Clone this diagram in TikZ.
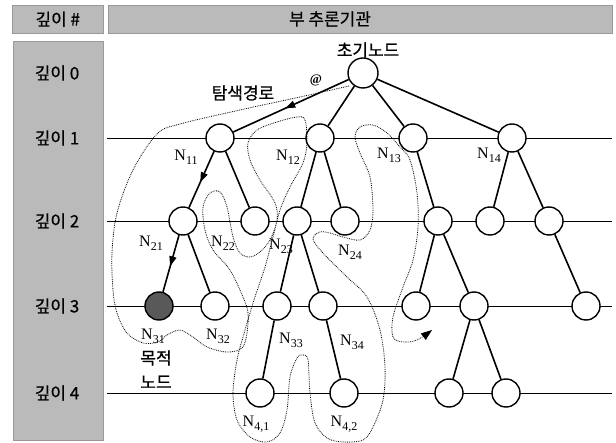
\documentclass[tikz,border=0pt]{standalone}
\usepackage{fontspec}
\setmainfont{Noto Sans CJK KR}[FakeBold=0.6]
\newfontfamily\tms{Liberation Serif}
\usetikzlibrary{arrows.meta,decorations.markings}
\newcommand{\Nl}[1]{{\tms\fontsize{16}{16}\selectfont N\raisebox{-0.5ex}{\fontsize{12}{12}\selectfont #1}}}
\begin{document}
\begin{tikzpicture}[x=1pt,y=-1pt,
  tnode/.style={circle,draw,line width=1.4pt,fill=white,minimum size=28pt,inner sep=0pt},
  goal/.style={tnode,fill=black!65},
  edge/.style={line width=1.6pt},
  midarrow/.style={edge,postaction={decorate},decoration={markings,mark=at position 0.55 with {\arrow{Triangle[length=10pt,width=7pt]}}}},
  level/.style={line width=0.7pt},
  greybox/.style={fill=black!27,draw=black!40,line width=0.5pt},
  kor/.style={font=\fontsize{17}{17}\selectfont},
  lbl/.style={inner sep=0pt},
  searchpath/.style={densely dotted,line width=0.8pt}]
\useasboundingbox (0,0) rectangle (616,443);
% header and depth column
\node[greybox,minimum width=91pt,minimum height=28pt,anchor=north west] (hdl) at (12,5) {};
\node[greybox,minimum width=504pt,minimum height=28pt,anchor=north west] (hdr) at (108,5) {};
\node[kor] (hdltxt) at (hdl.center) {깊이 \#};
\node[kor] (hdrtxt) at (330,19) {부 추론기관};
\node[greybox,minimum width=90pt,minimum height=399pt,anchor=north west] (col) at (13,41) {};
\node[kor] (d0) at (57,73) {깊이 0};
\node[kor] (d1) at (57,138) {깊이 1};
\node[kor] (d2) at (57,221) {깊이 2};
\node[kor] (d3) at (57,306) {깊이 3};
\node[kor] (d4) at (57,393) {깊이 4};
% level lines
\coordinate (l1a) at (107,138); \coordinate (l1b) at (612,138);
\coordinate (l2a) at (107,221); \coordinate (l2b) at (612,221);
\coordinate (l3a) at (107,306); \coordinate (l3b) at (612,306);
\coordinate (l4a) at (107,393); \coordinate (l4b) at (612,393);
\draw[level] (l1a) -- (l1b);
\draw[level] (l2a) -- (l2b);
\draw[level] (l3a) -- (l3b);
\draw[level] (l4a) -- (l4b);
% nodes
\node[tnode,minimum size=30pt] (r) at (363,73) {};
\node[tnode] (n11) at (220,138) {};
\node[tnode] (n12) at (320,138) {};
\node[tnode] (n13) at (413,138) {};
\node[tnode] (n14) at (512,138) {};
\node[tnode] (n21) at (183,221) {};
\node[tnode] (n22) at (255,221) {};
\node[tnode] (n23) at (297,221) {};
\node[tnode] (n24) at (345,221) {};
\node[tnode] (n25) at (438,221) {};
\node[tnode] (n26) at (490,221) {};
\node[tnode] (n27) at (549,221) {};
\node[goal] (n31) at (159,306) {};
\node[tnode] (n32) at (215,306) {};
\node[tnode] (n33) at (277,306) {};
\node[tnode] (n34) at (323,306) {};
\node[tnode] (n35) at (416,306) {};
\node[tnode] (n36) at (474,306) {};
\node[tnode] (n37) at (586,306) {};
\node[tnode] (n41) at (260,393) {};
\node[tnode] (n42) at (344,393) {};
\node[tnode] (n43) at (449,393) {};
\node[tnode] (n44) at (506,393) {};
% edges
\draw[midarrow] (r) -- (n11);
\draw[edge] (r) -- (n12);
\draw[edge] (r) -- (n13);
\draw[edge] (r) -- (n14);
\draw[midarrow] (n11) -- (n21);
\draw[edge] (n11) -- (n22);
\draw[edge] (n12) -- (n23);
\draw[edge] (n12) -- (n24);
\draw[edge] (n13) -- (n25);
\draw[edge] (n14) -- (n26);
\draw[edge] (n14) -- (n27);
\draw[midarrow] (n21) -- (n31);
\draw[edge] (n21) -- (n32);
\draw[edge] (n23) -- (n33);
\draw[edge] (n23) -- (n34);
\draw[edge] (n25) -- (n35);
\draw[edge] (n25) -- (n36);
\draw[edge] (n27) -- (n37);
\draw[edge] (n33) -- (n41);
\draw[edge] (n34) -- (n42);
\draw[edge] (n36) -- (n43);
\draw[edge] (n36) -- (n44);
% search path
\draw[searchpath,-{Triangle[length=11pt,width=8pt]}] plot[smooth,tension=0.55] coordinates {
 (349,86) (300,97) (240,110) (180,124) (157,134) (133,170) (117,213) (112,253) (113,290) (117,313) (127,333) (143,343) (158,342) (167,335) (180,330) (193,337) (207,347) (227,352) (242,348) (247,333) (248,313) (243,297) (230,270) (213,250) (205,230) (203,207) (210,193) (220,192) (227,207) (233,237) (240,253) (250,257) (260,252) (270,240) (277,220) (275,203) (260,180) (250,160) (248,143) (257,130) (277,122) (297,117) (305,120) (307,143) (303,163) (290,187) (280,210) (273,237) (265,267) (253,303) (243,337) (237,360) (233,393) (237,420) (250,437) (267,442) (280,433) (287,410) (290,377) (297,358) (303,355) (308,360) (310,393) (315,423) (327,438) (343,442) (363,440) (373,427) (383,400) (385,367) (380,330) (367,297) (347,277) (323,253) (313,239) (320,232) (330,233) (343,237) (360,240) (370,230) (373,210) (370,177) (360,153) (355,137) (360,127) (373,125) (387,133) (400,147) (410,160) (417,193) (418,227) (413,260) (403,287) (393,317) (393,337) (403,342) (417,340) (432,330)};
% labels
\node[lbl] (tn11) at (186,157) {\Nl{11}};
\node[lbl] (tn12) at (288,157) {\Nl{12}};
\node[lbl] (tn13) at (389,155) {\Nl{13}};
\node[lbl] (tn14) at (489,155) {\Nl{14}};
\node[lbl] (tn21) at (151,243) {\Nl{21}};
\node[lbl] (tn22) at (223,243) {\Nl{22}};
\node[lbl] (tn23) at (281,246) {\Nl{23}};
\node[lbl] (tn24) at (350,252) {\Nl{24}};
\node[lbl] (tn31) at (153,336) {\Nl{31}};
\node[lbl] (tn32) at (218,336) {\Nl{32}};
\node[lbl] (tn33) at (291,340) {\Nl{33}};
\node[lbl] (tn34) at (352,342) {\Nl{34}};
\node[lbl] (tn41) at (256,424) {\Nl{4,1}};
\node[lbl] (tn42) at (344,424) {\Nl{4,2}};
\node[kor,lbl] (goal1) at (156,358) {목적};
\node[kor,lbl] (goal2) at (156,382) {노드};
\node[kor,lbl] (start) at (368,50) {초기노드};
\node[kor,lbl] (path) at (243,93) {탐색경로};
\node[lbl,font=\tms\bfseries\fontsize{13}{13}\selectfont] (at) at (316,80) {@};
\end{tikzpicture}
\end{document}
